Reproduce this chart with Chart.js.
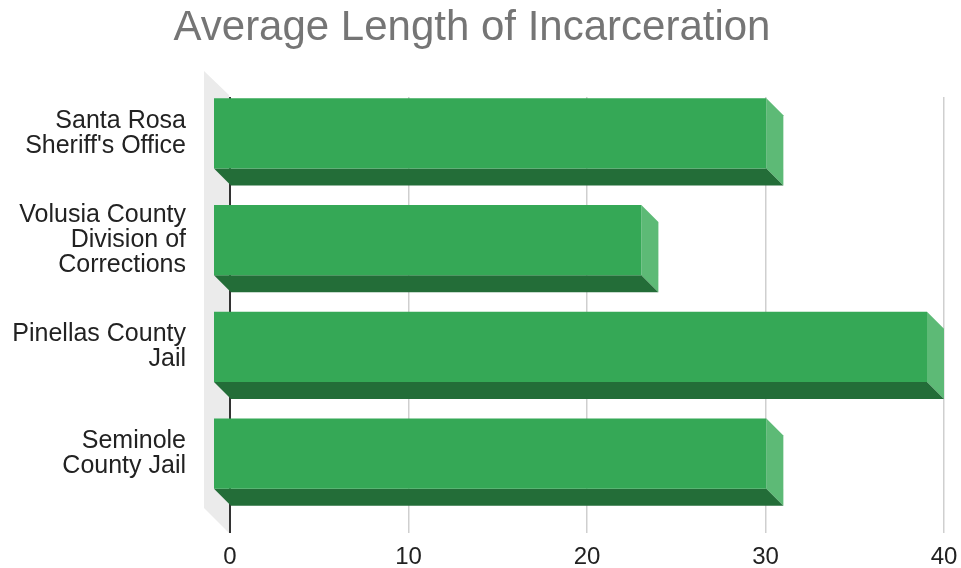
<!DOCTYPE html>
<html>
<head>
<meta charset="utf-8">
<script src="https://cdn.jsdelivr.net/npm/chart.js@4.4.1/dist/chart.umd.min.js"></script>
<style>
  html, body { margin: 0; padding: 0; background: #fff; }
  #wrap { width: 961px; height: 568px; }
</style>
</head>
<body>
<div id="wrap"><canvas id="chart" width="961" height="568"></canvas></div>
<script>
// values
const categories = [
    ['Santa Rosa', "Sheriff's Office"],
    ['Volusia County', 'Division of', 'Corrections'],
    ['Pinellas County', 'Jail'],
    ['Seminole', 'County Jail']
];
const avgLength = [31, 24, 40, 31];
const xTicks = [0, 10, 20, 30, 40];

// depth of the fake 3D bars
const DX = 17, DY = 17;

function poly(ctx, pts, color) {
    ctx.beginPath();
    ctx.moveTo(pts[0][0], pts[0][1]);
    for (let i = 1; i < pts.length; i++) ctx.lineTo(pts[i][0], pts[i][1]);
    ctx.closePath();
    ctx.fillStyle = color;
    ctx.fill();
}

const bars3d = {
    id: 'bars3d',
    beforeDraw(chart) {
        // grey side wall on the left of the plot
        const { ctx, chartArea: a } = chart;
        ctx.save();
        poly(ctx, [
            [a.left - 1, a.top - 2],
            [a.left - 26, a.top - 26],
            [a.left - 26, a.bottom - 16],
            [a.left - 1, a.bottom + 9]
        ], '#ebebeb');
        ctx.restore();
    },
    afterDatasetsDraw(chart) {
        const ctx = chart.ctx;
        ctx.save();
        chart.getDatasetMeta(0).data.forEach(bar => {
            const { x, y, base, height } = bar.getProps(['x', 'y', 'base', 'height'], true);
            const t = y - height / 2, b = y + height / 2;
            const fx0 = base - DX, fx1 = x - DX, ft = t - DY, fb = b - DY;
            poly(ctx, [[fx1, ft], [x, t], [x, b], [fx1, fb]], '#5dba76');   // right side
            poly(ctx, [[fx0, fb], [fx1, fb], [x, b], [base, b]], '#236d38'); // underside
            poly(ctx, [[fx0, ft], [fx1, ft], [fx1, fb], [fx0, fb]], '#35a856'); // front
        });
        ctx.restore();
    }
};

new Chart(document.getElementById('chart'), {
    type: 'bar',
    data: {
        labels: categories,
        datasets: [{
            data: avgLength,
            backgroundColor: 'rgba(0,0,0,0)',
            borderWidth: 0,
            barPercentage: 0.656,
            categoryPercentage: 1
        }]
    },
    options: {
        indexAxis: 'y',
        responsive: false,
        animation: false,
        events: [],
        layout: { padding: { left: 0, right: 17, top: 0, bottom: 0 } },
        plugins: {
            legend: { display: false },
            tooltip: { enabled: false },
            title: {
                display: true,
                text: 'Average Length of Incarceration',
                color: '#757575',
                font: { family: 'Liberation Sans', size: 42, weight: 'normal', lineHeight: 1.2 },
                padding: { top: 3, bottom: 43.6 }
            }
        },
        scales: {
            x: {
                min: 0,
                max: 40,
                afterBuildTicks: s => { s.ticks = xTicks.map(v => ({ value: v })); },
                afterFit: s => {
                    s.height = 44;
                    s.paddingLeft = 0;
                    s.paddingRight = 0;
                },
                grid: {
                    color: c => c.tick && c.tick.value === 0 ? '#333333' : '#cfcfcf',
                    lineWidth: c => c.tick && c.tick.value === 0 ? 2 : 1.5,
                    drawTicks: true,
                    tickLength: 9
                },
                border: { display: false },
                ticks: {
                    color: '#222',
                    padding: 10,
                    font: { family: 'Liberation Sans', size: 24 }
                }
            },
            y: {
                afterFit: s => {
                    s.width = 230;
                    s.paddingTop = 0;
                    s.paddingBottom = 0;
                },
                grid: { display: false, drawTicks: false },
                border: { display: false },
                ticks: {
                    color: '#222',
                    padding: 44,
                    labelOffset: -17,
                    font: { family: 'Liberation Sans', size: 25, lineHeight: 1.0 }
                }
            }
        }
    },
    plugins: [bars3d]
});
</script>
</body>
</html>
